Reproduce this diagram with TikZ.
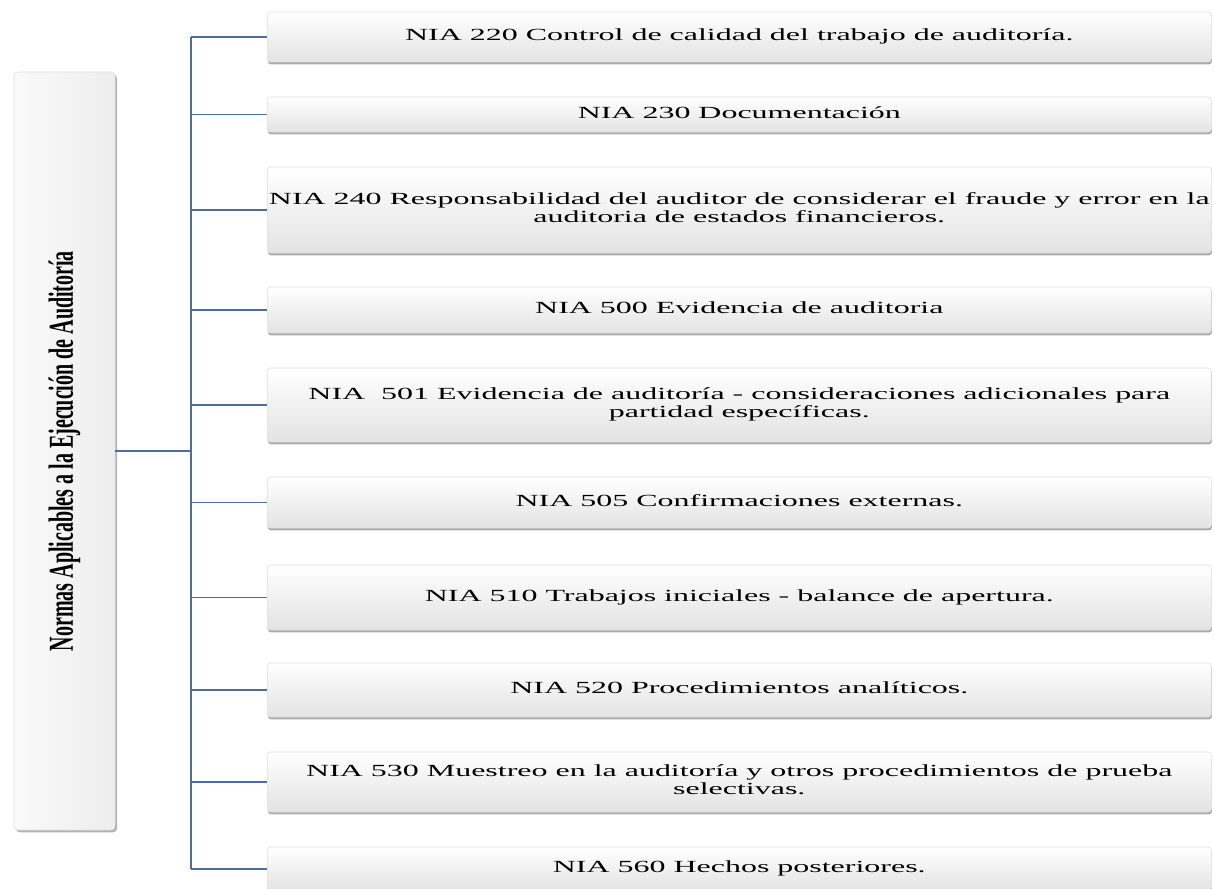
\documentclass[tikz,border=0pt]{standalone}
\usepackage{fontspec}
\setmainfont{Liberation Serif}
\usepackage{xcolor}
\usepackage{graphicx}
\usetikzlibrary{positioning, shadows}

\definecolor{lineaazul}{RGB}{79,108,158}
\newcommand{\estira}[1]{\scalebox{1.88}[1]{\begin{tabular}{@{}c@{}}#1\end{tabular}}}

\tikzset{
    caja/.style={rectangle, rounded corners=3pt, draw=gray!25, line width=0.6pt,
        top color=white, bottom color=gray!22, inner sep=0pt, anchor=west,
        minimum width=944pt, font=\fontsize{17}{18}\selectfont,
        drop shadow={shadow xshift=0.6pt, shadow yshift=-2.4pt, fill=black!60, opacity=0.55}},
    cajaizq/.style={rectangle, rounded corners=4pt, draw=gray!25, line width=0.6pt,
        left color=gray!4, right color=gray!14, inner sep=0pt,
        minimum width=101pt, minimum height=758pt,
        drop shadow={shadow xshift=2pt, shadow yshift=-2.4pt, fill=black!60, opacity=0.5}},
    rama/.style={draw=lineaazul, line width=1.8pt},
}

\begin{document}
\begin{tikzpicture}[x=1pt, y=-1pt]
        \useasboundingbox (0,0) rectangle (1214,888);
        \clip (0,0) rectangle (1214,888);

        % Caja principal
        \node[cajaizq] (normas) at (64.5,451)
            {\rotatebox{90}{\scalebox{1}[1.75]{\fontsize{20}{20}\selectfont\bfseries Normas Aplicables a la Ejecución de Auditoría}}};
        \coordinate (eje) at (190.7,451);

        % Cajas de las normas
        \node[caja, minimum height=50pt] (nia220) at (267,37) {\estira{NIA 220 Control de calidad del trabajo de auditoría.}};
        \node[caja, minimum height=35pt] (nia230) at (267,114.5) {\estira{NIA 230 Documentación}};
        \node[caja, minimum height=86pt] (nia240) at (267,210) {\estira{NIA 240 Responsabilidad del auditor de considerar el fraude y error en la\\ auditoria de estados financieros.}};
        \node[caja, minimum height=46pt] (nia500) at (267,310) {\estira{NIA 500 Evidencia de auditoria}};
        \node[caja, minimum height=74pt] (nia501) at (267,405) {\estira{NIA\ \ 501 Evidencia de auditoría - consideraciones adicionales para\\ partidad específicas.}};
        \node[caja, minimum height=51pt] (nia505) at (267,502.5) {\estira{NIA 505 Confirmaciones externas.}};
        \node[caja, minimum height=65pt] (nia510) at (267,597.5) {\estira{NIA 510 Trabajos iniciales - balance de apertura.}};
        \node[caja, minimum height=54pt] (nia520) at (267,690) {\estira{NIA 520 Procedimientos analíticos.}};
        \node[caja, minimum height=60pt] (nia530) at (267,782) {\estira{NIA 530 Muestreo en la auditoría y otros procedimientos de prueba\\ selectivas.}};
        \node[caja, minimum height=44pt] (nia560) at (267,869) {\estira{NIA 560 Hechos posteriores.}};

        % Conectores
        \draw[rama] (normas.east) -- (eje);
        \draw[rama] (nia220.west -| eje) -- (nia560.west -| eje);
        \foreach \n in {nia220, nia230, nia240, nia500, nia501, nia505, nia510, nia520, nia530, nia560}
            \draw[rama] (\n.west -| eje) -- (\n.west);
    \end{tikzpicture}
\end{document}
